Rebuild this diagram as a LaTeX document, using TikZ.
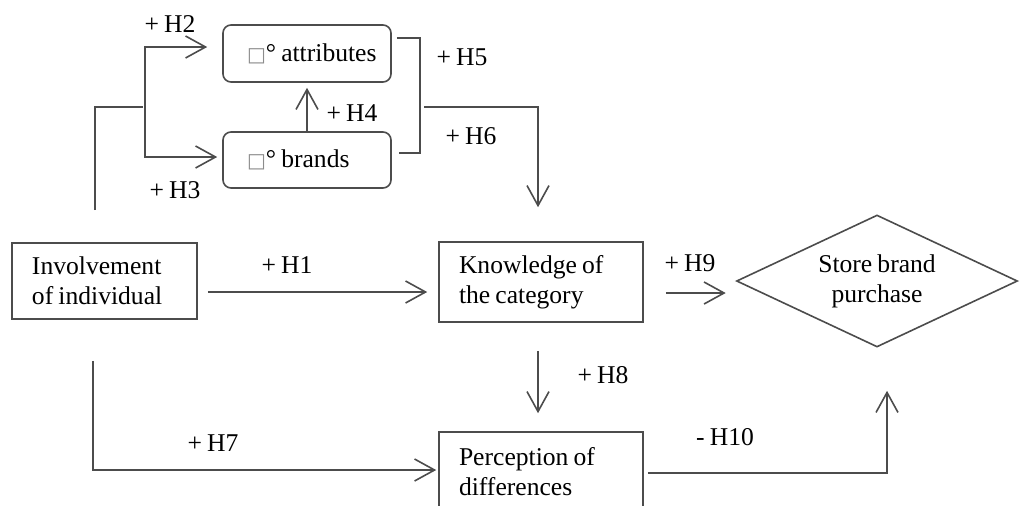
\documentclass[tikz,border=0pt]{standalone}
\usepackage{fontspec}
\setmainfont[WordSpace=0.8]{Liberation Serif}
\newfontfamily\symfont{DejaVu Sans}
\usetikzlibrary{arrows.meta,calc,shapes.geometric}
\newcommand{\sq}{{\symfont\fontsize{10}{10}\selectfont\color{black!45}□}}
\begin{document}
\begin{tikzpicture}[x=0.5pt,y=-0.5pt,
  every node/.style={font=\fontsize{12.8}{15}\selectfont, text=black},
  ln/.style={draw=black!70, line width=0.8pt},
  arr/.style={ln, -{Straight Barb[length=10pt,width=11pt]}},
  box/.style={ln, rectangle, align=left, inner xsep=10pt, inner ysep=0pt,
    execute at begin node={\spaceskip=0pt\relax\xspaceskip=0pt\relax}},
  rbox/.style={ln, rectangle, rounded corners=4pt, inner xsep=10pt, inner ysep=0pt},
  lbl/.style={inner sep=0pt}]
\useasboundingbox (0,0) rectangle (1021,505);

% main nodes
\node[box, text width=72.5pt, minimum height=38pt] (inv) at (104.5,281) {Involvement\\of individual};
\node[box, text width=82pt, minimum height=40pt] (know) at (541,282) {Knowledge of\\the category};
\node[box, text width=82pt, minimum height=40pt] (perc) at (541,472) {Perception of\\differences};
\node[rbox, minimum height=28.5pt] (attr) at (307,53.5) {\makebox[64pt][l]{\hspace{2pt}\sq° attributes}};
\node[rbox, minimum height=28pt] (brands) at (307,160) {\makebox[64pt][l]{\hspace{2pt}\sq° brands}};
\node[ln, diamond, aspect=2.13, minimum width=140.5pt, minimum height=66pt, inner sep=0pt, align=center] (dia) at (877,281) {Store brand\\purchase};

% labels
\node[lbl] (l1) at (287,265) {+ H1};
\node[lbl] (l2) at (170,24) {+ H2};
\node[lbl] (l3) at (175,190) {+ H3};
\node[lbl] (l4) at (352,113) {+ H4};
\node[lbl] (l5) at (462,57) {+ H5};
\node[lbl] (l6) at (471,136) {+ H6};
\node[lbl] (l7) at (213,443) {+ H7};
\node[lbl] (l8) at (603,375) {+ H8};
\node[lbl] (l9) at (690,263) {+ H9};
\node[lbl] (l10) at (725,437) {- H10};

% helper coordinates
\coordinate (it) at ($(inv.north west)+(84,-32)$);
\coordinate (bj) at (145,107);
\coordinate (ib) at ($(inv.south west)+(82,41)$);
\coordinate (a1) at ($(attr.east)+(5,-15.5)$);
\coordinate (b1) at ($(brands.east)+(7,-7)$);
\coordinate (rb) at (420,107);

% H1
\draw[arr] ($(inv.east)+(10,11)$) -- ($(know.west)+(-11,10)$);
% H2 / H3
\draw[ln] (it) |- ($(bj)+(-2,0)$);
\draw[arr] (bj) |- ($(attr.west)+(-15,-6.5)$);
\draw[arr] (bj) |- ($(brands.west)+(-5,-3)$);
% H4
\draw[arr] (brands.north) -- ($(attr.south)+(0,5)$);
% H5 / H6
\draw[ln] (a1) -- (a1 -| rb) -- (b1 -| rb) -- (b1);
\draw[arr] ($(rb)+(4,0)$) -| ($(know.north)+(-3,-34)$);
% H7
\draw[arr] (ib) |- ($(perc.west)+(-2,-2)$);
% H8
\draw[arr] ($(know.south)+(-3,28)$) -- ($(perc.north)+(-3,-18)$);
% H9
\draw[arr] ($(know.east)+(22,11)$) -- ($(dia.west)+(-10,12)$);
% H10
\draw[arr] ($(perc.east)+(4,1)$) -| ($(dia.south)+(10,43)$);
\end{tikzpicture}
\end{document}
